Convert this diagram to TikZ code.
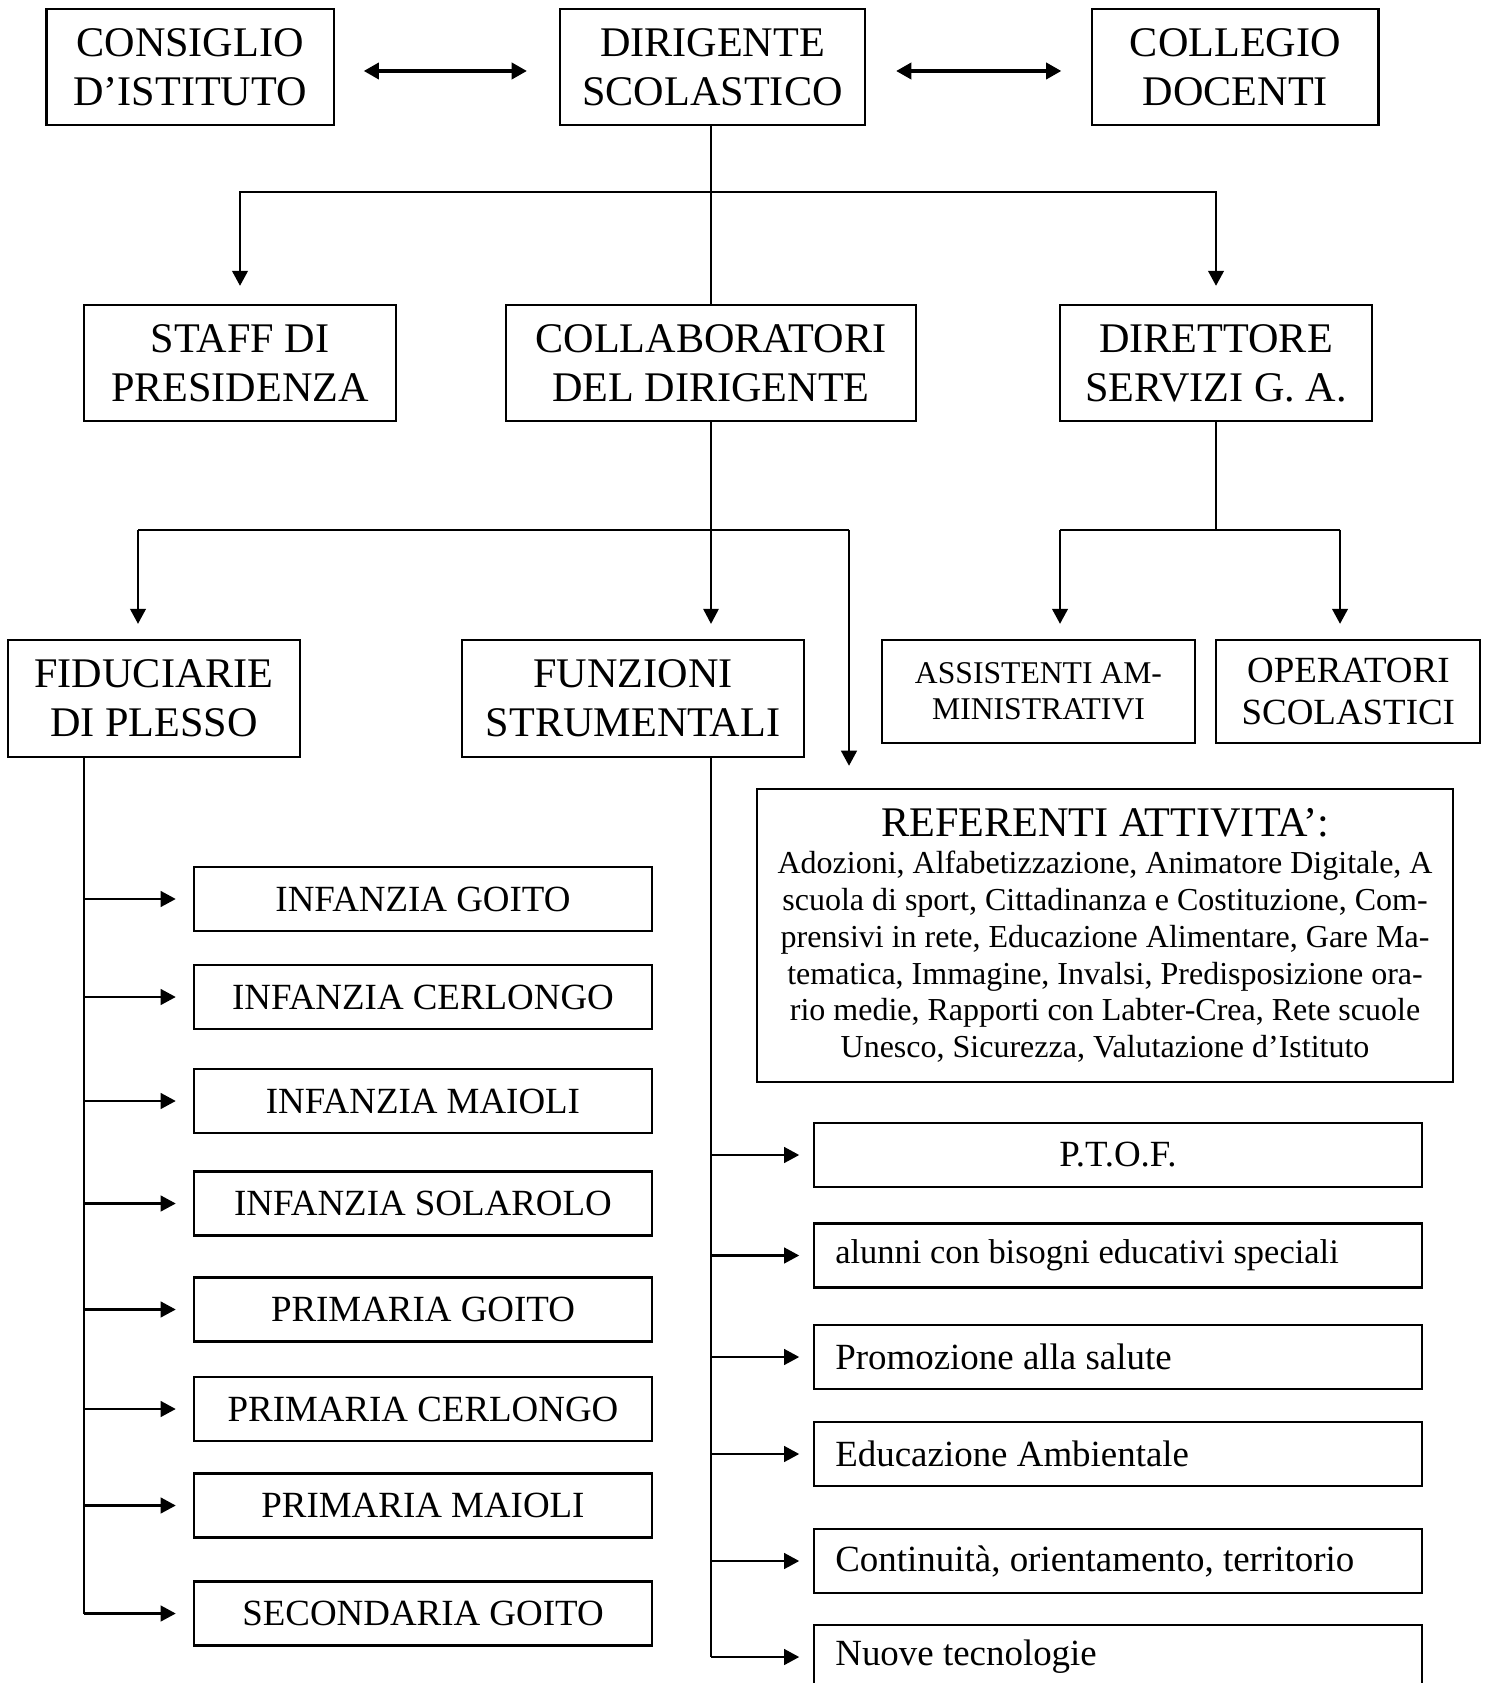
\documentclass[tikz,border=0pt]{standalone}
\usepackage{fontspec}
\setmainfont{Liberation Serif}
\usetikzlibrary{arrows.meta, positioning}

\begin{document}
\begin{tikzpicture}[x=0.01cm, y=-0.01cm]
		\tikzstyle{Box} = [rectangle, draw=black, line width=0.6pt, inner sep=0pt, align=center, font=\fontsize{12}{13.9}\selectfont]
		\tikzstyle{Plesso} = [Box, minimum width=4.58cm, minimum height=0.64cm, font=\fontsize{10.5}{12}\selectfont]
		\tikzstyle{Task} = [Box, minimum height=0.64cm, text width=5.65cm, inner xsep=0.21cm, align=flush left, font=\fontsize{10.5}{12}\selectfont]
		\tikzstyle{Line} = [line width=0.5pt]
		\tikzstyle{Bar} = [line width=0.8pt]
		\tikzstyle{Arrow} = [line width=0.8pt, -{Triangle[length=4.3pt, width=4.4pt]}]
		\tikzstyle{DArrow} = [line width=0.9pt, {Triangle[length=4.3pt, width=4.6pt]}-{Triangle[length=4.3pt, width=4.6pt]}]

		\useasboundingbox (0,0) rectangle (1488,1683);
		\clip (0,0) rectangle (1488,1683);

		% top row
		\node (dir) [Box, minimum width=3.05cm, minimum height=1.16cm] at (712.5,67) {DIRIGENTE\\SCOLASTICO};
		\node (cons) [Box, minimum width=2.87cm, minimum height=1.16cm, left=2.24cm of dir] {CONSIGLIO\\D’ISTITUTO};
		\node (coll) [Box, minimum width=2.86cm, minimum height=1.16cm, right=2.25cm of dir] {COLLEGIO\\DOCENTI};

		% second row
		\node (staff) [Box, minimum width=3.12cm, minimum height=1.16cm] at (240,363) {STAFF DI\\PRESIDENZA};
		\node (collab) [Box, minimum width=4.10cm, minimum height=1.16cm] at (711,363) {COLLABORATORI\\DEL DIRIGENTE};
		\node (dsga) [Box, minimum width=3.12cm, minimum height=1.16cm] at (1216,363) {DIRETTORE\\SERVIZI G. A.};

		% third row
		\node (fid) [Box, minimum width=2.92cm, minimum height=1.17cm] at (154,698.5) {FIDUCIARIE\\DI PLESSO};
		\node (funz) [Box, minimum width=3.42cm, minimum height=1.17cm] at (633,698.5) {FUNZIONI\\STRUMENTALI};
		\node (ass) [Box, minimum width=3.13cm, minimum height=1.03cm, font=\fontsize{9}{10.2}\selectfont] at (1038.5,691.5) {ASSISTENTI AM-\\MINISTRATIVI};
		\node (oper) [Box, minimum width=2.64cm, minimum height=1.03cm, font=\fontsize{10.5}{12}\selectfont, right=0.19cm of ass] {OPERATORI\\SCOLASTICI};
		\node (ref) [Box, minimum width=6.96cm, minimum height=2.93cm, font=\fontsize{9.1}{10.5}\selectfont] at (1105,935.5) {{\fontsize{12}{14}\selectfont REFERENTI ATTIVITA’:}\\Adozioni, Alfabetizzazione, Animatore Digitale, A\\scuola di sport, Cittadinanza e Costituzione, Com-\\prensivi in rete, Educazione Alimentare, Gare Ma-\\tematica, Immagine, Invalsi, Predisposizione ora-\\rio medie, Rapporti con Labter-Crea, Rete scuole\\Unesco, Sicurezza, Valutazione d’Istituto};

		% plessi
		\node (p1) [Plesso] at (423,899) {INFANZIA GOITO};
		\node (p2) [Plesso] at (423,997) {INFANZIA CERLONGO};
		\node (p3) [Plesso] at (423,1101) {INFANZIA MAIOLI};
		\node (p4) [Plesso] at (423,1203.5) {INFANZIA SOLAROLO};
		\node (p5) [Plesso] at (423,1309.5) {PRIMARIA GOITO};
		\node (p6) [Plesso] at (423,1409) {PRIMARIA CERLONGO};
		\node (p7) [Plesso] at (423,1505.5) {PRIMARIA MAIOLI};
		\node (p8) [Plesso] at (423,1613.5) {SECONDARIA GOITO};

		% funzioni
		\node (f1) [Task, align=center] at (1118,1155) {P.T.O.F.};
		\node (f2) [Task, font=\fontsize{9.8}{11}\selectfont] at (1118,1255.5) {alunni con bisogni educativi speciali};
		\node (f3) [Task] at (1118,1357) {Promozione alla salute};
		\node (f4) [Task] at (1118,1454) {Educazione Ambientale};
		\node (f5) [Task] at (1118,1561) {Continuità, orientamento, territorio};
		\node (f6) [Task] at (1118,1657) {Nuove tecnologie};

		% connectors
		\draw[DArrow, shorten <=0.29cm, shorten >=0.32cm] ([yshift=-0.04cm]cons.east) -- ([yshift=-0.04cm]dir.west);
		\draw[DArrow, shorten <=0.30cm, shorten >=0.30cm] ([yshift=-0.04cm]dir.east) -- ([yshift=-0.04cm]coll.west);

		\coordinate (hub) at (711,192);
		\draw[Line] (dir.south -| hub) -- (collab.north -| hub);
		\draw[Arrow, shorten >=0.18cm] (hub) -| (staff.north);
		\draw[Arrow, shorten >=0.18cm] (hub) -| (dsga.north);

		\coordinate (fidtop) at (138,530);
		\coordinate (reftop) at (849,530);
		\draw[Arrow, line width=0.5pt, shorten >=0.15cm] (collab.south) -- (collab.south |- funz.north);
		\draw[Bar] (fidtop) -- (reftop);
		\draw[Arrow, shorten >=0.15cm] (fidtop) -- (fidtop |- fid.north);
		\draw[Arrow, shorten >=0.22cm] (reftop) -- (reftop |- ref.north);

		\coordinate (asstop) at (1060,530);
		\coordinate (opertop) at (1340,530);
		\draw[Line] (dsga.south) -- (dsga.south |- asstop);
		\draw[Bar] (asstop) -- (opertop);
		\draw[Arrow, shorten >=0.15cm] (asstop) -- (asstop |- ass.north);
		\draw[Arrow, shorten >=0.15cm] (opertop) -- (opertop |- oper.north);

		\coordinate (ftrunk) at (84,757);
		\draw[Bar] (ftrunk) -- (ftrunk |- p8.west);
		\draw[Arrow, shorten >=0.17cm] (ftrunk |- p1.west) -- (p1.west);
		\draw[Arrow, shorten >=0.17cm] (ftrunk |- p2.west) -- (p2.west);
		\draw[Arrow, shorten >=0.17cm] (ftrunk |- p3.west) -- (p3.west);
		\draw[Arrow, shorten >=0.17cm] (ftrunk |- p4.west) -- (p4.west);
		\draw[Arrow, shorten >=0.17cm] (ftrunk |- p5.west) -- (p5.west);
		\draw[Arrow, shorten >=0.17cm] (ftrunk |- p6.west) -- (p6.west);
		\draw[Arrow, shorten >=0.17cm] (ftrunk |- p7.west) -- (p7.west);
		\draw[Arrow, shorten >=0.17cm] (ftrunk |- p8.west) -- (p8.west);

		\coordinate (strunk) at (711,757);
		\draw[Line] (strunk) -- (strunk |- f6.west);
		\draw[Arrow, shorten >=0.14cm] (strunk |- f1.west) -- (f1.west);
		\draw[Arrow, shorten >=0.14cm] (strunk |- f2.west) -- (f2.west);
		\draw[Arrow, shorten >=0.14cm] (strunk |- f3.west) -- (f3.west);
		\draw[Arrow, shorten >=0.14cm] (strunk |- f4.west) -- (f4.west);
		\draw[Arrow, shorten >=0.14cm] (strunk |- f5.west) -- (f5.west);
		\draw[Arrow, shorten >=0.14cm] (strunk |- f6.west) -- (f6.west);
\end{tikzpicture}
\end{document}
